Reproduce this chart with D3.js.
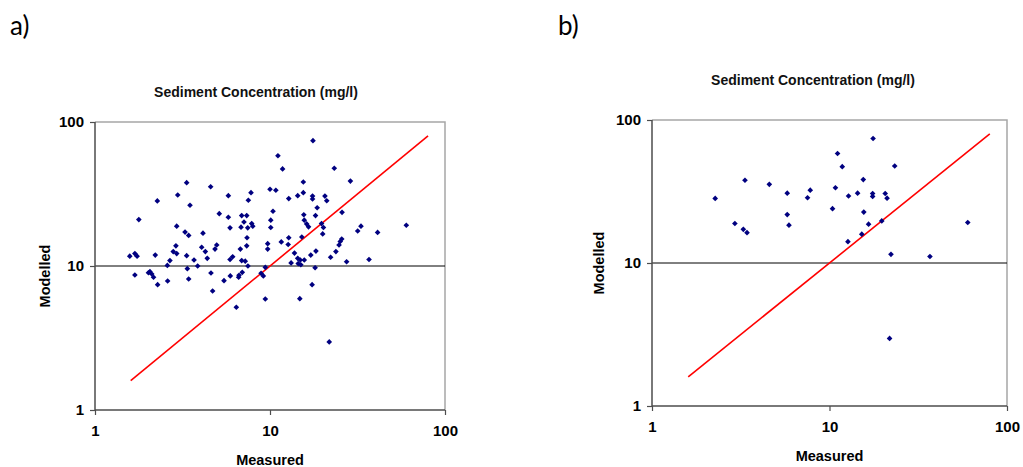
<!DOCTYPE html>
<html>
<head>
<meta charset="utf-8">
<script src="https://cdn.jsdelivr.net/npm/d3@7/dist/d3.min.js"></script>
<style>
  html, body { margin: 0; padding: 0; background: #fff; }
  svg { display: block; }
  .tick-label { font-family: "Liberation Sans", Arial, sans-serif; font-weight: bold; font-size: 15px; fill: #000; }
  .axis-title { font-family: "Liberation Sans", Arial, sans-serif; font-weight: bold; font-size: 14.5px; fill: #000; }
  .chart-title { font-family: "Liberation Sans", Arial, sans-serif; font-weight: bold; font-size: 14px; fill: #111; }
  .panel-letter { font-family: Lato, "Open Sans", sans-serif; font-size: 26px; fill: #000; }
</style>
</head>
<body>
<svg id="chart" width="1023" height="467"></svg>
<script>
// Panel a: all samples (measured vs modelled sediment concentration, mg/l)
const measuredA = [
  3.34, 4.58, 2.97, 5.78, 7.79, 2.27, 3.49, 7.52, 1.78, 5.13,
  5.78, 6.89, 7.36, 7.10, 7.86, 7.97, 2.93, 5.91, 6.83, 7.46,
  3.27, 3.43, 4.14, 7.39, 2.90, 4.07, 4.27, 4.96, 4.85, 7.36,
  6.77, 1.58, 1.69, 1.74, 2.21, 2.80, 2.93, 3.34, 3.68, 4.38,
  2.68, 2.59, 5.91, 6.12, 6.89, 7.22, 7.48, 3.37, 3.86, 1.69,
  2.02, 2.06, 2.11, 2.16, 2.28, 2.60, 3.43, 4.60, 4.70, 5.46,
  5.93, 6.62, 6.65, 6.94, 9.40, 8.89, 9.16, 9.40, 6.42, 17.6,
  11.1, 11.8, 23.3, 28.8, 15.5, 10.0, 10.8, 12.8, 14.4, 15.5,
  17.5, 17.5, 20.6, 21.1, 18.6, 10.4, 18.2, 15.6, 15.7, 16.2,
  16.6, 25.8, 10.1, 10.1, 19.7, 20.2, 20.0, 33.1, 31.7, 41.2,
  60.1, 12.8, 15.2, 11.6, 12.7, 9.70, 9.70, 25.7, 25.2, 24.8,
  23.8, 13.8, 18.3, 17.1, 14.4, 22.2, 14.9, 15.7, 15.0, 14.5,
  13.2, 27.4, 36.8, 18.1, 17.4, 14.8, 21.8
];
const modelledA = [
  37.9, 35.5, 31.1, 30.8, 32.3, 28.3, 26.4, 28.6, 21.0, 23.1,
  21.8, 22.4, 22.4, 20.2, 19.7, 18.9, 18.9, 18.4, 18.6, 18.4,
  17.2, 16.3, 16.9, 15.7, 13.8, 13.5, 12.6, 14.0, 13.1, 13.8,
  13.1, 11.7, 12.2, 11.7, 11.9, 12.6, 12.2, 11.8, 11.0, 11.3,
  10.9, 10.1, 11.1, 11.6, 10.9, 10.8, 10.0, 9.58, 10.0, 8.66,
  8.98, 9.13, 8.80, 8.35, 7.42, 7.87, 8.12, 8.94, 6.70, 7.91,
  8.53, 8.35, 8.62, 9.04, 9.79, 8.90, 8.53, 5.90, 5.17, 74.2,
  58.3, 47.2, 47.7, 38.9, 38.3, 34.1, 33.6, 29.4, 30.8, 32.3,
  30.6, 29.2, 30.6, 28.4, 25.4, 24.0, 22.4, 22.7, 20.8, 19.6,
  18.7, 23.6, 20.8, 18.5, 19.7, 18.5, 16.7, 18.9, 17.5, 17.1,
  19.2, 15.7, 15.9, 14.7, 14.1, 14.3, 13.1, 15.4, 14.8, 14.0,
  12.6, 12.3, 12.7, 11.9, 11.3, 11.5, 11.0, 11.0, 10.2, 10.4,
  10.5, 10.7, 11.1, 9.73, 7.42, 5.93, 2.97
];

// Panel b: reduced sample set
const measuredB = [
  3.34, 4.58, 5.78, 7.79, 7.52, 2.27, 5.78, 5.91, 2.93, 3.27,
  3.43, 17.6, 11.1, 11.8, 23.3, 15.5, 10.8, 12.8, 14.4, 17.5,
  17.5, 20.6, 21.1, 10.4, 15.6, 19.7, 16.6, 15.2, 12.7, 60.1,
  22.2, 36.8, 21.8
];
const modelledB = [
  37.9, 35.5, 30.8, 32.3, 28.6, 28.3, 21.8, 18.4, 18.9, 17.2,
  16.3, 74.2, 58.3, 47.2, 47.7, 38.3, 33.6, 29.4, 30.8, 30.6,
  29.2, 30.6, 28.4, 24.0, 22.7, 19.7, 18.7, 15.9, 14.1, 19.2,
  11.5, 11.1, 2.97
];

// 1:1 reference line end points, and axis ticks
const lineEnds = [1.6, 80];
const tickValues = [1, 10, 100];
const refLevel = 10;

const svg = d3.select("#chart");

function drawPanel(cfg, xs, ys) {
  const x = d3.scaleLog().domain([1, 100]).range([cfg.left, cfg.right]);
  const y = d3.scaleLog().domain([1, 100]).range([cfg.bottom, cfg.top]);
  const g = svg.append("g");

  // top and right frame
  g.append("path")
    .attr("d", `M${cfg.left},${cfg.top}H${cfg.right}V${cfg.bottom}`)
    .attr("fill", "none").attr("stroke", "#a6a6a6").attr("stroke-width", 1.5);

  // horizontal reference at 10
  g.append("line")
    .attr("x1", cfg.left).attr("x2", cfg.right)
    .attr("y1", y(refLevel)).attr("y2", y(refLevel))
    .attr("stroke", "#000").attr("stroke-width", 1);

  // axes
  const xAxis = d3.axisBottom(x).tickValues(tickValues).tickFormat(d3.format("d")).tickSize(5).tickPadding(10);
  const yAxis = d3.axisLeft(y).tickValues(tickValues).tickFormat(d3.format("d")).tickSize(5).tickPadding(6);
  const gx = g.append("g").attr("transform", `translate(0,${cfg.bottom})`).call(xAxis);
  const gy = g.append("g").attr("transform", `translate(${cfg.left},0)`).call(yAxis);
  [gx, gy].forEach(a => {
    a.attr("font-family", null).attr("font-size", null);
    a.select(".domain").attr("stroke", "#4d4d4d").attr("stroke-width", 1.5);
    a.selectAll(".tick line").attr("stroke", "#4d4d4d").attr("stroke-width", 1.2);
    a.selectAll(".tick text").attr("class", "tick-label").attr("fill", null);
  });
  gx.select(".domain").attr("d", `M${cfg.left},0H${cfg.right}`);
  gy.select(".domain").attr("d", `M0,${cfg.bottom}V${cfg.top}`);

  // 1:1 line
  g.append("line")
    .attr("x1", x(lineEnds[0])).attr("y1", y(lineEnds[0]))
    .attr("x2", x(lineEnds[1])).attr("y2", y(lineEnds[1]))
    .attr("stroke", "#ff0000").attr("stroke-width", 1.6);

  // points
  const marker = d3.symbol().type(d3.symbolSquare).size(16);
  g.append("g").selectAll("path").data(d3.range(xs.length)).join("path")
    .attr("d", marker)
    .attr("transform", i => `translate(${x(xs[i])},${y(ys[i])}) rotate(45)`)
    .attr("fill", "#000080");

  // titles
  g.append("text").attr("class", "chart-title")
    .attr("x", cfg.titleX).attr("y", cfg.titleY).attr("text-anchor", "middle")
    .text("Sediment Concentration (mg/l)");
  g.append("text").attr("class", "axis-title")
    .attr("x", (cfg.left + cfg.right) / 2).attr("y", cfg.bottom + 55).attr("text-anchor", "middle")
    .text("Measured");
  g.append("text").attr("class", "axis-title")
    .attr("transform", `translate(${cfg.yLabelX},${cfg.yLabelY}) rotate(-90)`)
    .attr("text-anchor", "middle").attr("dy", "0.35em")
    .text("Modelled");
  g.append("text").attr("class", "panel-letter")
    .attr("x", cfg.letterX).attr("y", 35).text(cfg.letter);
}

drawPanel({ left: 95, right: 445, top: 122, bottom: 410, titleX: 256, titleY: 97,
            yLabelX: 45, yLabelY: 276, letter: "a)", letterX: 10 }, measuredA, modelledA);
drawPanel({ left: 652, right: 1007, top: 120, bottom: 406, titleX: 813, titleY: 85,
            yLabelX: 599, yLabelY: 263, letter: "b)", letterX: 558 }, measuredB, modelledB);
</script>
</body>
</html>
